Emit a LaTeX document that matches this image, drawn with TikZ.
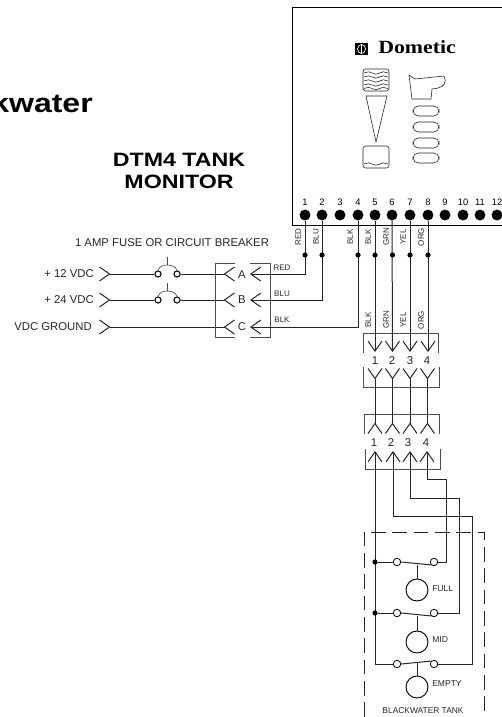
\documentclass[tikz,border=0pt]{standalone}
\usepackage{fontspec}
\usepackage{tikz}
\usetikzlibrary{arrows.meta,decorations.pathmorphing}
\setmainfont{Liberation Sans}
\newfontfamily\widefont[FakeStretch=1.2]{Liberation Sans Bold}
\newfontfamily\logofont[FakeStretch=1.17]{Liberation Serif Bold}
\tikzset{
  barb/.tip={Straight Barb[length=7.5pt,width=10.5pt]},
  rbarb/.tip={Straight Barb[reversed,length=7.5pt,width=10.5pt]},
  wire/.style={line width=.75pt,black!85},
  thin line/.style={line width=.5pt,black!70},
  icon/.style={line width=.45pt,black!85},
  wave/.style={icon,decorate,decoration={snake,amplitude=.9pt,segment length=11pt}},
  term/.style={circle,fill=black,inner sep=0pt,minimum size=8.2pt},
  junction/.style={circle,fill=black,inner sep=0pt,minimum size=3.9pt},
  fuse/.style={circle,draw,line width=.8pt,fill=white,inner sep=0pt,minimum size=4.6pt},
  contact/.style={circle,draw,line width=.6pt,fill=white,inner sep=0pt,minimum size=5.6pt},
  float/.style={circle,draw,line width=.7pt,inner sep=0pt,minimum size=16.5pt},
  label/.style={inner sep=0pt,font=\fontsize{8.5}{10}\selectfont,text=black!85},
  wlabel/.style={inner sep=0pt,font=\fontsize{6}{7}\selectfont,text=black!85},
  vlabel/.style={wlabel,rotate=90},
  num/.style={inner sep=0pt,font=\fontsize{7}{8}\selectfont},
  conn/.style={inner sep=0pt,font=\fontsize{8.5}{10}\selectfont,text=black!85},
}
\begin{document}
\begin{tikzpicture}[x=.75pt,y=-.75pt]
\useasboundingbox (0,0) rectangle (502,717);

% monitor
\draw[line width=.7pt] (502,7) -- (292,7) -- (292,225) -- (502,225);
\node[inner sep=0pt,anchor=base east,font=\widefont\fontsize{20}{24}\selectfont] (head) at (93,113){kwater};
\node[inner sep=0pt,align=center,font=\widefont\fontsize{14.5}{17}\selectfont] (title) at (179,171){DTM4 TANK\\MONITOR};
\node[inner sep=0pt,anchor=base west,font=\logofont\fontsize{14}{16}\selectfont] (brand) at (378,54){Dometic};

% logo and panel
\fill[black] (355,43) rectangle (368,55);
\draw[white,line width=.5pt] (361.5,49) ellipse (4 and 4.5);
\draw[white,line width=.5pt] (361.5,44.5) -- (361.5,53.5);
\draw[icon,rounded corners=2pt] (363,69) rectangle (389,91);
\draw[wave] (364,73) -- (388,73);
\draw[wave] (364,77) -- (388,77);
\draw[wave] (364,81) -- (388,81);
\draw[wave] (364,85) -- (388,85);
\draw[wave] (364,88.5) -- (388,88.5);
\draw[icon] (366,96) -- (387,96) -- (376,142) -- cycle;
\draw[icon,rounded corners=2pt] (363,146) rectangle (389,168);
\draw[wave] (364,164) -- (388,164);
\draw[icon] (409,75) -- (415,79) -- (444,76) .. controls (447,82) and (445,88) .. (432,89) -- (431,99) -- (412,99) -- cycle;
\draw[icon,rounded corners=4pt] (413,106) rectangle (439,116);
\draw[icon,rounded corners=4pt] (413,122) rectangle (439,132);
\draw[icon,rounded corners=4pt] (413,138) rectangle (439,148);
\draw[icon,rounded corners=4pt] (413,153) rectangle (439,163);

% terminals
\node[term] (t1) at (305,215){};
\node[term] (t2) at (322,215){};
\node[term] (t3) at (340,215){};
\node[term] (t4) at (358,215){};
\node[term] (t5) at (375,215){};
\node[term] (t6) at (392,215){};
\node[term] (t7) at (410,215){};
\node[term] (t8) at (428,215){};
\node[term] (t9) at (445,215){};
\node[term] (t10) at (463,215){};
\node[term] (t11) at (480,215){};
\node[term] (t12) at (497,215){};
\node[num] (n1) at (305,202){1};
\node[num] (n2) at (322,202){2};
\node[num] (n3) at (340,202){3};
\node[num] (n4) at (358,202){4};
\node[num] (n5) at (375,202){5};
\node[num] (n6) at (392,202){6};
\node[num] (n7) at (410,202){7};
\node[num] (n8) at (428,202){8};
\node[num] (n9) at (445,202){9};
\node[num] (n10) at (463,202){10};
\node[num] (n11) at (480,202){11};
\node[num] (n12) at (497,202){12};

% power side
\node[label] (fuselabel) at (172,243){1 AMP FUSE OR CIRCUIT BREAKER};
\node[label,anchor=east] (v12) at (94,274){+ 12 VDC};
\node[label,anchor=east] (v24) at (94,300){+ 24 VDC};
\node[label,anchor=east] (vgnd) at (92,327){VDC GROUND};
\coordinate (p12) at (99,274);
\coordinate (p24) at (99,300);
\coordinate (pgnd) at (99,327);
\coordinate (a1) at (235,274);
\coordinate (b1) at (235,300);
\coordinate (c1) at (235,327);
\coordinate (a2) at (250,274);
\coordinate (b2) at (250,300);
\coordinate (c2) at (250,327);
\node[fuse] (fa1) at (158,274){};
\node[fuse] (fa2) at (177,274){};
\node[fuse] (fb1) at (158,300){};
\node[fuse] (fb2) at (177,300){};
\coordinate (fa3) at (167,265);
\coordinate (fb3) at (167,291);
\coordinate (fa4) at (167,257);
\coordinate (fb4) at (167,283);
\draw[wire,{rbarb}-] (p12) -- (fa1);
\draw[wire,{rbarb}-] (p24) -- (fb1);
\draw[wire,-{rbarb}] (fa2) -- (a1);
\draw[wire,-{rbarb}] (fb2) -- (b1);
\draw[wire,{rbarb}-{rbarb}] (pgnd) -- (c1);
\draw[thin line] (fa1.north) to[out=70,in=180] (fa3) to[out=0,in=110] (fa2.north);
\draw[thin line] (fb1.north) to[out=70,in=180] (fb3) to[out=0,in=110] (fb2.north);
\draw[thin line] (fa4) -- (fa3);
\draw[thin line] (fb4) -- (fb3);
\draw[thin line] (235,263) -- (215,263) -- (215,337) -- (235,337);
\draw[thin line] (250,263) -- (270,263) -- (270,337) -- (250,337);
\node[conn] (ca) at (242,275){A};
\node[conn] (cb) at (242,300){B};
\node[conn] (cc) at (242,327){C};
\node[wlabel] (wred) at (282,268){RED};
\node[wlabel] (wblu) at (282,294){BLU};
\node[wlabel] (wblk) at (282,320){BLK};

% wires down from the monitor
\coordinate (k5) at (375,352);
\coordinate (k6) at (392.5,352);
\coordinate (k7) at (410,352);
\coordinate (k8) at (428,352);
\draw[wire,-{barb}] (t1) |- (a2);
\draw[wire,-{barb}] (t2) |- (b2);
\draw[wire,-{barb}] (t4) |- (c2);
\draw[wire,-{barb}] (t5) -- (k5);
\draw[wire,-{barb}] (t6) -- (k6);
\draw[wire,-{barb}] (t7) -- (k7);
\draw[wire,-{barb}] (t8) -- (k8);
\node[junction] (j1) at (305,255){};
\node[junction] (j2) at (322,255){};
\node[junction] (j4) at (358,255){};
\node[junction] (j5) at (375,255){};
\node[junction] (j6) at (392.5,255){};
\node[junction] (j7) at (410,255){};
\node[junction] (j8) at (428,255){};
\node[vlabel] (l1) at (298,237){RED};
\node[vlabel] (l2) at (316,237){BLU};
\node[vlabel] (l4) at (350,237){BLK};
\node[vlabel] (l5) at (368,237){BLK};
\node[vlabel] (l6) at (386,237){GRN};
\node[vlabel] (l7) at (403,237){YEL};
\node[vlabel] (l8) at (421,237){ORG};
\node[vlabel] (m5) at (368,320){BLK};
\node[vlabel] (m6) at (386,320){GRN};
\node[vlabel] (m7) at (403,320){YEL};
\node[vlabel] (m8) at (421,320){ORG};

% connector pairs
\draw[thin line] (363,353) -- (363,333) -- (438,333) -- (438,353);
\draw[thin line] (363,367) -- (363,387) -- (439,387) -- (439,367);
\draw[thin line] (364,434) -- (364,414) -- (439,414) -- (439,434);
\draw[thin line] (365,449) -- (365,469) -- (440,469) -- (440,449);
\node[conn] (q1) at (375,361){1};
\node[conn] (q2) at (392,361){2};
\node[conn] (q3) at (410,361){3};
\node[conn] (q4) at (427,361){4};
\node[conn] (r1) at (374,443){1};
\node[conn] (r2) at (391,443){2};
\node[conn] (r3) at (408,443){3};
\node[conn] (r4) at (426,443){4};
\coordinate (u1) at (375,368);
\coordinate (u2) at (392.5,368);
\coordinate (u3) at (410,368);
\coordinate (u4) at (427.5,368);
\coordinate (d1) at (375,434);
\coordinate (d2) at (392.5,434);
\coordinate (d3) at (410,434);
\coordinate (d4) at (427.5,434);
\draw[wire,{rbarb}-{rbarb}] (u1) -- (d1);
\draw[wire,{rbarb}-{rbarb}] (u2) -- (d2);
\draw[wire,{rbarb}-{rbarb}] (u3) -- (d3);
\draw[wire,{rbarb}-{rbarb}] (u4) -- (d4);

% tank
\draw[line width=.7pt,black!85,dash pattern=on 11pt off 5pt] (364,717) -- (364,532) -- (484,532) -- (484,717);
\node[contact] (sa1) at (397,562){};
\node[contact] (sb1) at (434,562){};
\node[contact] (sa2) at (397,613){};
\node[contact] (sb2) at (434,613){};
\node[contact] (sa3) at (397,664){};
\node[contact] (sb3) at (434,664){};
\node[float] (f1) at (417,590){};
\node[float] (f2) at (417,642){};
\node[float] (f3) at (417,687){};
\node[wlabel,anchor=west,font=\fontsize{6.4}{8}\selectfont] (lf1) at (432,589){FULL};
\node[wlabel,anchor=west,font=\fontsize{6.4}{8}\selectfont] (lf2) at (432,640){MID};
\node[wlabel,anchor=west,font=\fontsize{6.4}{8}\selectfont] (lf3) at (432,684){EMPTY};
\node[wlabel,font=\fontsize{6.3}{8}\selectfont] (tank) at (423,711){BLACKWATER TANK};
\coordinate (g1) at (375,451);
\coordinate (g2) at (393,451);
\coordinate (g3) at (410,451);
\coordinate (g4) at (427,451);
\coordinate (e1) at (417,564.5);
\coordinate (e2) at (417,615.5);
\coordinate (e3) at (417,663);
\draw[wire,{barb}-] (g1) |- (sa3);
\draw[wire,{barb}-] (g2) -- (393,516) -- (472,516) |- (sb3);
\draw[wire,{barb}-] (g3) -- (410,498) -- (459,498) |- (sb2);
\draw[wire,{barb}-] (g4) -- (427,479) -- (446,479) |- (sb1);
\node[junction] (x1) at (375,562){};
\node[junction] (x2) at (375,613){};
\draw[wire] (x1) -- (sa1);
\draw[wire] (x2) -- (sa2);
\draw[wire] (sa1.east) -- (sb1.south west);
\draw[wire] (sa2.east) -- (sb2.south west);
\draw[wire] (sa3.east) -- (sb3.north west);
\draw[wire] (e1) -- (f1);
\draw[wire] (e2) -- (f2);
\draw[wire] (e3) -- (f3);
\end{tikzpicture}
\end{document}
